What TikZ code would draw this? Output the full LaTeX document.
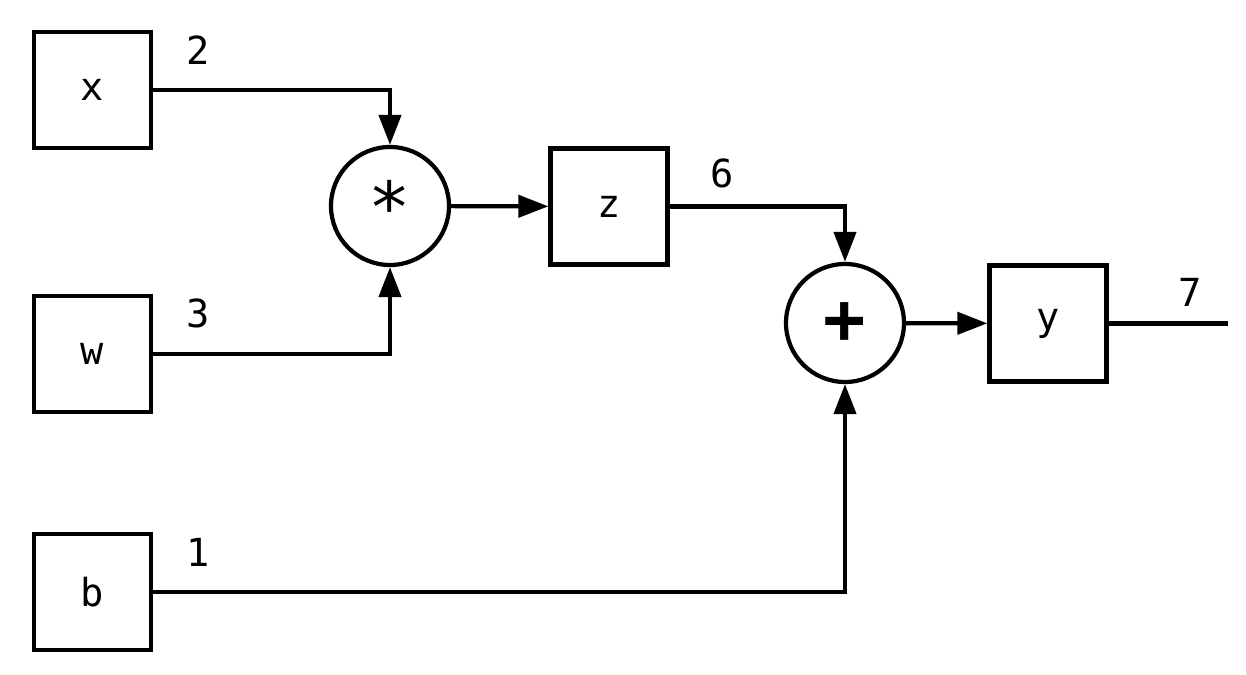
\documentclass[tikz,border=0pt]{standalone}
\usepackage{fontspec}
\setmonofont{DejaVu Sans Mono}
\usepackage{tikz}
\usetikzlibrary{
    arrows.meta,
    calc,
    positioning
}
\tikzset{
    var/.style={draw, line width=1.2pt, minimum width=1.17cm, minimum height=1.16cm, font=\ttfamily\fontsize{11}{13}\selectfont},
    op/.style={draw, circle, line width=1.2pt, minimum size=1.18cm, inner sep=0pt, font=\ttfamily\fontsize{20}{22}\selectfont},
    val/.style={font=\ttfamily\fontsize{11}{13}\selectfont},
    wire/.style={line width=1.2pt},
    flow/.style={wire, -{Triangle[length=0.3cm, width=0.22cm]}}
}

\begin{document}
\begin{tikzpicture}
                        \useasboundingbox (0, 0) rectangle (12.46, 6.75);
                        \node[var] (x) at (0.925, 5.85) {x};
                        \node[var] (w) at (0.925, 3.21) {w};
                        \node[var] (b) at (0.925, 0.83) {b};
                        \node[op] (mul) at (3.90, 4.69) {*};
                        \node[var] (z) at (6.09, 4.685) {z};
                        \node[op] (add) at (8.45, 3.52) {\textbf{+}};
                        \node[var] (y) at (10.48, 3.515) {y};
                        \coordinate (out) at (12.28, 3.515);
                        \node[val] (vx) at (1.98, 6.25) {2};
                        \node[val] (vw) at (1.98, 3.62) {3};
                        \node[val] (vb) at (1.98, 1.23) {1};
                        \node[val] (vz) at (7.22, 5.02) {6};
                        \node[val] (vy) at (11.90, 3.83) {7};
                        \draw[flow]
                        (x) -| (mul.north);
                        \draw[flow]
                        (w) -| (mul.south);
                        \draw[flow]
                        (mul) -- (z);
                        \draw[flow]
                        (z) -| (add.north);
                        \draw[flow]
                        (b) -| (add.south);
                        \draw[flow]
                        (add) -- (y);
                        \draw[wire]
                        (y) -- (out);
                    \end{tikzpicture}
\end{document}
